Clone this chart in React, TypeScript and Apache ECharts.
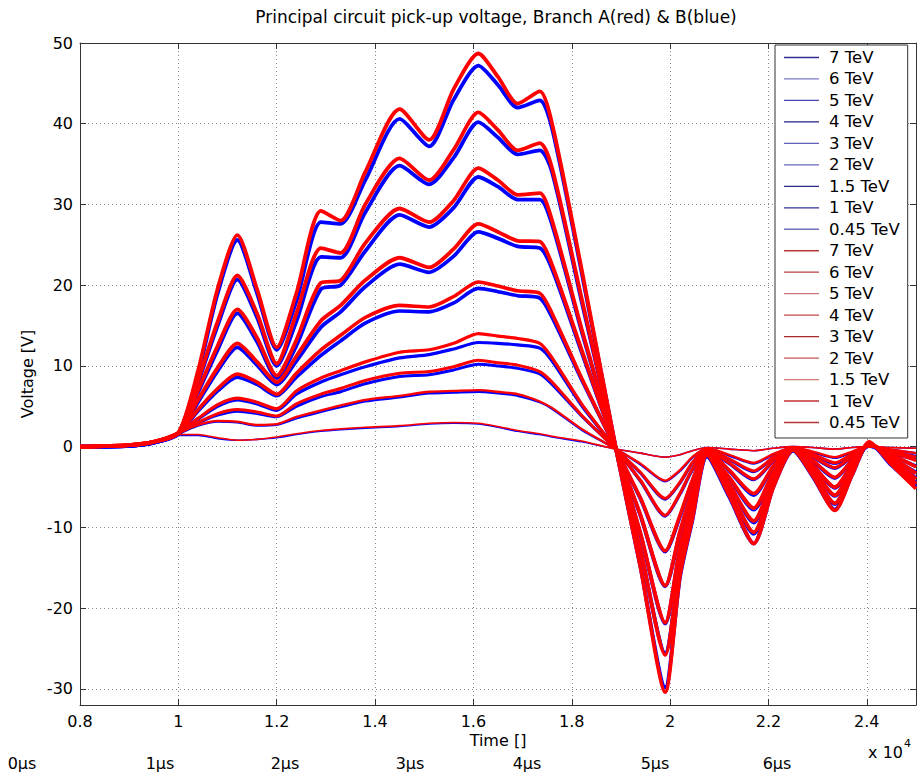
import React, { useEffect, useRef } from 'react';
import * as echarts from 'echarts';

// Sample times (raw units, axis shown as x 10^4)
const TIME = [8000, 9000, 9500, 10000, 10400, 10800, 11200, 11600, 12000, 12400, 12900, 13300, 13800, 14500, 15100, 15600, 16100, 16500, 16900, 17350, 17600, 18200, 18900, 19400, 19900, 20200, 20450, 20750, 21200, 21700, 22100, 22500, 22900, 23350, 23700, 24050, 24500, 25000];

const ENERGIES = ['7 TeV', '6 TeV', '5 TeV', '4 TeV', '3 TeV', '2 TeV', '1.5 TeV', '1 TeV', '0.45 TeV'];

// Branch B (blue)
const B7 = [0.0, 0.1, 0.5, 1.6, 9.0, 19.0, 25.6, 19.0, 12.0, 18.0, 27.8, 27.6, 33.0, 40.6, 37.2, 43.0, 47.2, 44.8, 42.0, 42.9, 39.4, 21.6, -0.3, -15.0, -29.8, -16.2, -9.2, -1.2, -6.2, -12.0, -5.0, -0.5, -3.7, -7.8, -3.5, 0.5, -2.3, -5.0];
const B6 = [0.0, 0.1, 0.5, 1.6, 7.9, 15.0, 20.7, 16.0, 10.0, 15.5, 23.5, 23.4, 29.0, 34.8, 32.5, 35.8, 40.2, 38.3, 36.2, 36.7, 34.0, 18.0, -0.3, -12.9, -25.6, -14.8, -8.2, -1.2, -5.4, -10.8, -4.5, -0.5, -3.3, -7.1, -3.2, 0.4, -2.0, -4.5];
const B5 = [0.0, 0.1, 0.5, 1.6, 6.7, 12.0, 16.5, 13.0, 8.5, 12.5, 19.5, 20.0, 24.2, 28.7, 27.2, 29.6, 33.4, 32.2, 30.6, 30.6, 27.5, 14.3, -0.3, -10.9, -21.9, -12.7, -7.0, -1.0, -4.7, -9.4, -3.9, -0.4, -2.8, -6.1, -2.8, 0.3, -1.7, -3.9];
const B4 = [0.0, 0.1, 0.5, 1.6, 5.5, 9.4, 12.3, 10.1, 7.7, 10.6, 14.8, 16.7, 19.8, 22.6, 21.6, 23.6, 26.6, 25.8, 24.8, 24.6, 22.0, 11.7, -0.3, -8.6, -17.3, -10.7, -5.7, -0.8, -3.9, -7.8, -3.3, -0.3, -2.4, -5.1, -2.3, 0.2, -1.4, -3.2];
const B3 = [0.0, 0.1, 0.5, 1.6, 4.4, 6.9, 8.6, 7.7, 6.3, 8.6, 11.3, 13.1, 15.3, 16.8, 16.7, 17.8, 19.6, 19.2, 18.7, 18.4, 16.0, 8.3, -0.3, -6.5, -13.0, -8.7, -4.3, -0.6, -3.0, -6.0, -2.5, -0.2, -1.8, -3.9, -1.8, 0.1, -1.1, -2.4];
const B2 = [0.0, 0.1, 0.5, 1.6, 3.4, 5.0, 5.8, 5.3, 4.5, 6.5, 8.0, 8.9, 9.9, 11.0, 11.4, 12.1, 12.9, 12.8, 12.6, 12.2, 10.6, 5.1, -0.3, -4.3, -8.6, -5.9, -2.9, -0.5, -2.1, -4.1, -1.8, -0.2, -1.3, -2.7, -1.3, 0.1, -0.8, -1.6];
const B15 = [0.0, 0.1, 0.5, 1.6, 2.9, 3.9, 4.4, 4.1, 3.7, 5.0, 6.2, 6.8, 7.8, 8.7, 8.9, 9.5, 10.2, 10.0, 9.7, 9.0, 7.7, 3.8, -0.3, -3.3, -6.5, -4.5, -2.1, -0.3, -1.6, -3.1, -1.4, -0.1, -1.0, -2.1, -1.0, 0.1, -0.6, -1.2];
const B1 = [0.0, 0.1, 0.5, 1.6, 2.6, 3.1, 3.0, 2.6, 2.7, 3.5, 4.3, 4.9, 5.6, 6.1, 6.6, 6.7, 6.8, 6.6, 6.3, 5.5, 4.7, 2.1, -0.3, -2.2, -4.3, -3.0, -1.4, -0.2, -1.1, -2.1, -1.0, -0.1, -0.7, -1.4, -0.7, 0.0, -0.4, -0.8];
const B045 = [0.0, 0.1, 0.5, 1.4, 1.4, 1.0, 0.8, 0.9, 1.1, 1.5, 1.9, 2.1, 2.3, 2.5, 2.8, 2.9, 2.8, 2.4, 1.9, 1.5, 1.2, 0.6, -0.3, -0.8, -1.3, -1.0, -0.5, -0.1, -0.3, -0.5, -0.2, 0.0, -0.1, -0.3, -0.1, 0.0, -0.1, -0.2];

// Branch A (red)
const A7 = [0.0, 0.2, 0.6, 1.7, 9.4, 19.6, 26.2, 19.5, 12.3, 19.0, 29.2, 28.0, 34.0, 41.8, 38.0, 44.3, 48.7, 45.8, 42.5, 44.0, 40.0, 22.0, -0.3, -15.0, -30.4, -16.0, -9.0, -1.0, -6.0, -12.0, -5.0, -0.4, -3.6, -7.9, -3.5, 0.6, -2.2, -5.2];
const A6 = [0.0, 0.2, 0.6, 1.7, 8.2, 15.5, 21.2, 16.5, 10.3, 16.5, 24.6, 24.0, 30.0, 35.7, 33.0, 36.8, 41.4, 39.2, 36.7, 37.6, 34.5, 18.4, -0.3, -12.8, -25.8, -14.5, -8.0, -1.0, -5.3, -10.6, -4.4, -0.4, -3.2, -7.0, -3.1, 0.5, -1.9, -4.6];
const A5 = [0.0, 0.2, 0.6, 1.7, 7.0, 12.5, 17.0, 13.5, 8.8, 13.2, 20.3, 20.6, 25.2, 29.5, 27.8, 30.5, 34.5, 33.0, 31.2, 31.4, 28.0, 14.6, -0.3, -10.8, -21.8, -12.5, -6.8, -0.8, -4.6, -9.2, -3.8, -0.3, -2.7, -6.0, -2.7, 0.4, -1.6, -4.0];
const A4 = [0.0, 0.2, 0.6, 1.7, 5.8, 9.8, 12.8, 10.5, 8.0, 11.2, 15.6, 17.5, 20.6, 23.4, 22.2, 24.5, 27.6, 26.6, 25.5, 25.4, 22.5, 12.0, -0.3, -8.5, -17.2, -10.5, -5.5, -0.7, -3.8, -7.6, -3.2, -0.3, -2.3, -5.0, -2.2, 0.3, -1.3, -3.3];
const A3 = [0.0, 0.2, 0.6, 1.7, 4.6, 7.2, 9.0, 8.0, 6.5, 9.1, 12.0, 13.8, 16.0, 17.5, 17.3, 18.6, 20.4, 19.9, 19.3, 19.0, 16.5, 8.5, -0.3, -6.4, -12.9, -8.5, -4.2, -0.5, -2.9, -5.8, -2.4, -0.2, -1.7, -3.8, -1.7, 0.2, -1.0, -2.5];
const A2 = [0.0, 0.2, 0.6, 1.7, 3.5, 5.2, 6.0, 5.5, 4.7, 6.9, 8.5, 9.4, 10.5, 11.7, 12.0, 12.8, 14.0, 13.7, 13.4, 12.8, 11.0, 5.3, -0.3, -4.2, -8.5, -5.8, -2.8, -0.4, -2.0, -4.0, -1.7, -0.2, -1.2, -2.6, -1.2, 0.1, -0.7, -1.7];
const A15 = [0.0, 0.2, 0.6, 1.7, 3.0, 4.1, 4.6, 4.3, 3.8, 5.3, 6.5, 7.2, 8.2, 9.1, 9.3, 9.9, 10.7, 10.4, 10.1, 9.3, 8.0, 3.9, -0.3, -3.2, -6.4, -4.4, -2.0, -0.3, -1.5, -3.0, -1.3, -0.1, -0.9, -2.0, -0.9, 0.1, -0.5, -1.3];
const A1 = [0.0, 0.2, 0.6, 1.7, 2.7, 3.2, 3.1, 2.7, 2.8, 3.7, 4.5, 5.1, 5.8, 6.3, 6.8, 6.9, 7.0, 6.8, 6.5, 5.6, 4.8, 2.2, -0.3, -2.1, -4.2, -2.9, -1.3, -0.2, -1.0, -2.0, -0.9, -0.1, -0.6, -1.3, -0.6, 0.1, -0.35, -0.8];
const A045 = [0.0, 0.2, 0.6, 1.5, 1.5, 1.1, 0.8, 0.9, 1.2, 1.6, 2.0, 2.2, 2.4, 2.6, 2.9, 3.0, 2.9, 2.5, 2.0, 1.6, 1.3, 0.7, -0.3, -0.8, -1.3, -1.0, -0.5, -0.1, -0.3, -0.5, -0.2, 0.0, -0.1, -0.3, -0.1, 0.0, -0.1, -0.2];

const BRANCH_B = [B7, B6, B5, B4, B3, B2, B15, B1, B045];
const BRANCH_A = [A7, A6, A5, A4, A3, A2, A15, A1, A045];

const US_LABELS = ['0µs', '1µs', '2µs', '3µs', '4µs', '5µs', '6µs'];

const FONT = '"DejaVu Sans", "Liberation Sans", Arial, sans-serif';
const LINE_WIDTHS = [3.8, 3.8, 3.8, 3.8, 3.6, 3.2, 3.0, 2.3, 1.6];
const LEGEND_BLUE = ['#2e2e8e', '#7a7ac4', '#4848b0', '#1e1e84', '#6060b8', '#6868bc', '#2a2a8c', '#303098', '#7070c0'];
const LEGEND_RED = ['#b83838', '#b84040', '#c87878', '#c04848', '#a82828', '#c05858', '#d07878', '#c03030', '#b83434'];
const US_X = [22, 160, 285, 410, 527, 655, 777];

export default function App() {
  const ref = useRef<HTMLDivElement>(null);
  useEffect(() => {
    if (!ref.current) return;
    const chart = echarts.init(ref.current, undefined, { renderer: 'svg' });

    const series: any[] = [];
    const legendData: any[] = [];
    ENERGIES.forEach((e, k) => {
      series.push({
        name: e,
        type: 'line',
        symbol: 'none',
        showSymbol: false,
        smooth: 0.25,
        data: TIME.map((t, i) => [t, BRANCH_B[k][i]]),
        lineStyle: { color: '#0000ff', width: LINE_WIDTHS[k] },
        itemStyle: { color: '#0000ff' },
      });
      legendData.push({ name: e, icon: 'rect', itemStyle: { color: LEGEND_BLUE[k] } });
    });
    ENERGIES.forEach((e, k) => {
      const nm = e + ' ';
      series.push({
        name: nm,
        type: 'line',
        symbol: 'none',
        showSymbol: false,
        smooth: 0.25,
        data: TIME.map((t, i) => [t, BRANCH_A[k][i]]),
        lineStyle: { color: '#ff0000', width: LINE_WIDTHS[k] },
        itemStyle: { color: '#ff0000' },
      });
      legendData.push({ name: nm, icon: 'rect', itemStyle: { color: LEGEND_RED[k] } });
    });

    const axisLineStyle = { color: '#333', width: 1 };
    const gridLine = { show: true, lineStyle: { type: [1, 3], color: '#8a8a8a', width: 1 } };

    const option: any = {
      animation: false,
      backgroundColor: '#ffffff',
      textStyle: { fontFamily: FONT },
      title: {
        text: 'Principal circuit pick-up voltage, Branch A(red) & B(blue)',
        left: 491,
        top: 3,
        textAlign: 'center',
        textStyle: { fontFamily: FONT, fontSize: 17, fontWeight: 'normal', color: '#000' },
      },
      grid: { left: 80, right: 4, top: 43, bottom: 73, containLabel: false },
      legend: {
        orient: 'vertical',
        left: 775,
        top: 45,
        padding: [4, 8, 7, 9],
        itemWidth: 35,
        itemHeight: 1.3,
        itemGap: 4.47,
        icon: 'rect',
        backgroundColor: '#ffffff',
        borderColor: '#333',
        borderWidth: 1,
        borderRadius: 0,
        textStyle: { fontFamily: FONT, fontSize: 16.5, color: '#000', padding: [0, 0, 0, 5] },
        formatter: (n: string) => n.trim(),
        data: legendData,
        selectedMode: false,
      },
      xAxis: [
        {
          type: 'value', min: 8000, max: 25000, interval: 2000, position: 'bottom',
          axisLine: { show: true, onZero: false, lineStyle: axisLineStyle },
          axisTick: { show: true, inside: true, length: 6, lineStyle: axisLineStyle },
          axisLabel: {
            show: true, margin: 8, fontFamily: FONT, fontSize: 16, color: '#000', showMaxLabel: false,
            formatter: (v: number) => (v === 25000 ? '' : String(+(v / 10000).toFixed(1))),
          },
          splitLine: gridLine,
        },
        {
          type: 'value', min: 8000, max: 25000, interval: 2000, position: 'top',
          axisLine: { show: true, onZero: false, lineStyle: axisLineStyle },
          axisTick: { show: true, inside: true, length: 6, lineStyle: axisLineStyle },
          axisLabel: { show: false },
          splitLine: { show: false },
        },
      ],
      yAxis: [
        {
          type: 'value', min: -32, max: 50, splitNumber: 8, position: 'left',
          name: 'Voltage [V]', nameLocation: 'middle', nameGap: 30, nameRotate: 90,
          nameTextStyle: { fontFamily: FONT, fontSize: 16, color: '#000' },
          axisLine: { show: true, onZero: false, lineStyle: axisLineStyle },
          axisTick: { show: true, inside: true, length: 6, lineStyle: axisLineStyle },
          axisLabel: {
            show: true, margin: 7, fontFamily: FONT, fontSize: 16, color: '#000',
            formatter: (v: number) => (v === -32 ? '' : String(v)),
          },
          splitLine: gridLine,
        },
        {
          type: 'value', min: -32, max: 50, splitNumber: 8, position: 'right',
          axisLine: { show: true, onZero: false, lineStyle: axisLineStyle },
          axisTick: { show: true, inside: true, length: 6, lineStyle: axisLineStyle },
          axisLabel: { show: false },
          splitLine: { show: false },
        },
      ],
      graphic: [
        {
          type: 'text', x: 498, y: 740,
          style: { text: 'Time []', fontFamily: FONT, fontSize: 16, fill: '#000', textAlign: 'center', textVerticalAlign: 'middle' },
        },
        {
          type: 'text', x: 903, y: 752,
          style: { text: 'x 10', fontFamily: FONT, fontSize: 16, fill: '#000', textAlign: 'right', textVerticalAlign: 'middle' },
        },
        {
          type: 'text', x: 904, y: 743,
          style: { text: '4', fontFamily: FONT, fontSize: 11, fill: '#000', textAlign: 'left', textVerticalAlign: 'middle' },
        },
        ...US_LABELS.map((t, i) => ({
          type: 'text', x: US_X[i], y: 763,
          style: { text: t, fontFamily: FONT, fontSize: 16, fill: '#000', textAlign: 'center', textVerticalAlign: 'middle' },
        })),
      ],
      series,
    };
    chart.setOption(option);
    return () => chart.dispose();
  }, []);

  return (
    <div
      ref={ref}
      style={{ position: 'fixed', left: 0, top: 0, width: 920, height: 778, background: '#fff' }}
    />
  );
}
